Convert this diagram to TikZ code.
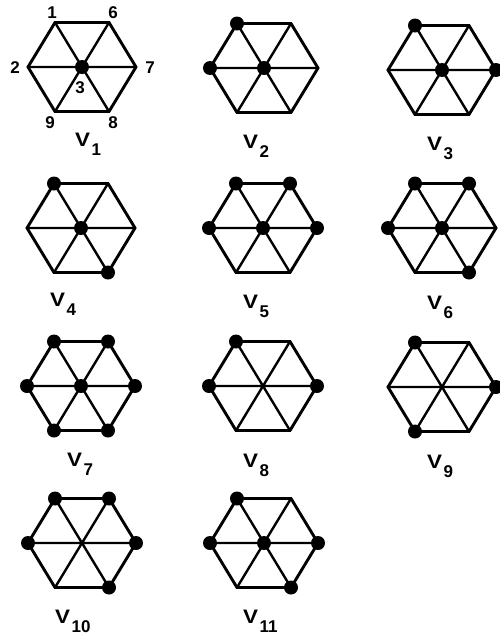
\documentclass[tikz,border=0pt]{standalone}
\usepackage{fontspec}
\setmainfont{Liberation Sans}
\usepackage{graphicx}
\tikzset{
  outer/.style={line width=2.9pt, line join=miter},
  spoke/.style={line width=2.4pt},
  vdot/.style={circle, fill=black, inner sep=0pt, minimum size=14pt},
  numlab/.style={font=\fontsize{17}{17}\bfseries\selectfont, inner sep=0pt},
  vlab/.style={anchor=base west, inner sep=0pt, font=\fontsize{19.5}{19.5}\bfseries\selectfont}
}
\newcommand{\hexgraph}[4]{%
  \begin{scope}[shift={(#2,#3)}]
    \coordinate (#1-3) at (0,0);
    \coordinate (#1-1) at (-27,-44.5);
    \coordinate (#1-6) at (27,-44.5);
    \coordinate (#1-2) at (-54,0);
    \coordinate (#1-7) at (54,0);
    \coordinate (#1-9) at (-27,44.5);
    \coordinate (#1-8) at (27,44.5);
  \end{scope}
  \draw[spoke] (#1-1) -- (#1-8) (#1-6) -- (#1-9) (#1-2) -- (#1-7);
  \draw[outer] (#1-1) -- (#1-6) -- (#1-7) -- (#1-8) -- (#1-9) -- (#1-2) -- cycle;
  \foreach \v in {#4} {\node[vdot] (#1-d\v) at (#1-\v) {};}
}
\newcommand{\vname}[1]{\scalebox{1.15}[1]{V}\hspace{1.5pt}\raisebox{-9pt}{\fontsize{17}{17}\bfseries\selectfont #1}}
\begin{document}
\begin{tikzpicture}[x=1pt,y=-1pt]
\useasboundingbox (0,0) rectangle (500,635);
\clip (0,0) rectangle (500,635);
\hexgraph{a}{82}{67}{3}
\hexgraph{b}{264}{68}{1,2,3}
\hexgraph{c}{442}{70}{1,7,3}
\hexgraph{d}{81}{228}{1,8,3}
\hexgraph{e}{263}{228}{1,6,2,7,3}
\hexgraph{f}{442}{228}{1,6,2,8,3}
\hexgraph{g}{81}{386}{1,6,2,7,9,8,3}
\hexgraph{h}{263}{386}{1,2,7}
\hexgraph{i}{442}{387}{1,7,9}
\hexgraph{j}{82}{543}{1,6,2,7,8}
\hexgraph{k}{264}{543}{1,2,7,8,3}
% vertex numbers of the first graph
\node[numlab] (n1) at (52,13) {1};
\node[numlab] (n6) at (113,13) {6};
\node[numlab] (n2) at (15,68) {2};
\node[numlab] (n7) at (150,68) {7};
\node[numlab] (n3) at (80,88) {3};
\node[numlab] (n9) at (50,123) {9};
\node[numlab] (n8) at (113,123) {8};
% graph names
\node[vlab] (L1) at (75,146) {\vname{1}};
\node[vlab] (L2) at (243,148) {\vname{2}};
\node[vlab] (L3) at (427,150) {\vname{3}};
\node[vlab] (L4) at (50,306) {\vname{4}};
\node[vlab] (L5) at (243,308) {\vname{5}};
\node[vlab] (L6) at (427,309) {\vname{6}};
\node[vlab] (L7) at (67,466) {\vname{7}};
\node[vlab] (L8) at (243,467) {\vname{8}};
\node[vlab] (L9) at (427,468) {\vname{9}};
\node[vlab] (L10) at (55,623) {\vname{10}};
\node[vlab] (L11) at (243,623) {\vname{11}};
\end{tikzpicture}
\end{document}
